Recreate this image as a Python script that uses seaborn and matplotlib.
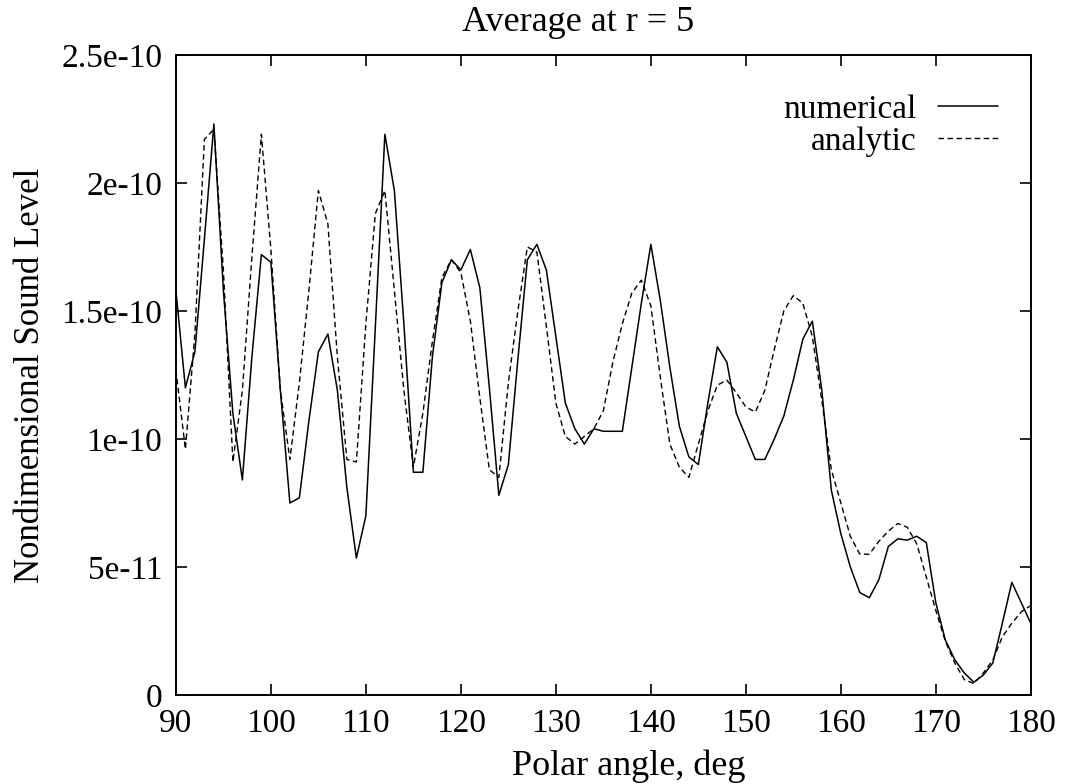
import numpy as np
import pandas as pd
import matplotlib
matplotlib.use("Agg")
import matplotlib.pyplot as plt
import seaborn as sns

# polar angle, one point per degree
angle = np.arange(90, 181)

# sound level, in units of 1e-11
numerical = [
    15.8, 12.0, 13.4, 17.8, 22.3, 15.8, 11.0, 8.4, 13.2, 17.2,   # 90-99
    16.9, 11.9, 7.5, 7.7, 10.7, 13.4, 14.1, 11.9, 8.1, 5.35,     # 100-109
    7.0, 14.4, 21.9, 19.7, 14.5, 8.7, 8.7, 13.2, 16.1, 17.0,     # 110-119
    16.6, 17.4, 15.9, 12.0, 7.8, 9.0, 13.1, 17.0, 17.6, 16.6,    # 120-129
    14.0, 11.4, 10.4, 9.8, 10.4, 10.3, 10.3, 10.3, 12.8, 15.3,   # 130-139
    17.6, 15.4, 12.8, 10.5, 9.3, 9.0, 11.4, 13.6, 13.0, 11.0,    # 140-149
    10.1, 9.2, 9.2, 10.0, 10.9, 12.3, 13.9, 14.6, 11.9, 8.0,     # 150-159
    6.3, 5.0, 4.0, 3.8, 4.5, 5.8, 6.1, 6.05, 6.2, 5.95,          # 160-169
    3.6, 2.15, 1.37, 0.86, 0.5, 0.78, 1.25, 2.8, 4.4, 3.6,       # 170-179
    2.8,                                                          # 180
]
analytic = [
    12.7, 9.6, 14.1, 21.7, 22.1, 16.6, 9.1, 11.9, 17.1, 21.9,    # 90-99
    17.4, 11.9, 9.2, 12.2, 15.8, 19.7, 18.4, 13.2, 9.2, 9.1,     # 100-109
    14.5, 18.8, 19.7, 15.8, 11.9, 8.9, 11.0, 13.8, 16.3, 17.0,   # 110-119
    16.5, 14.6, 11.6, 8.8, 8.5, 12.2, 15.0, 17.5, 17.3, 14.4,    # 120-129
    11.4, 10.1, 9.8, 10.1, 10.4, 11.1, 13.0, 14.5, 15.7, 16.2,   # 130-139
    15.2, 12.4, 9.8, 8.9, 8.5, 9.8, 11.1, 12.1, 12.3, 11.8,      # 140-149
    11.25, 11.05, 11.9, 13.5, 15.0, 15.6, 15.3, 14.0, 11.5, 8.8, # 150-159
    7.5, 6.2, 5.5, 5.5, 6.0, 6.4, 6.7, 6.55, 5.9, 4.6,           # 160-169
    3.3, 2.1, 1.25, 0.6, 0.45, 0.86, 1.37, 2.27, 2.8, 3.25,      # 170-179
    3.5,                                                          # 180
]

yticks = [0, 5e-11, 1e-10, 1.5e-10, 2e-10, 2.5e-10]
ytick_labels = ["0", "5e-11", "1e-10", "1.5e-10", "2e-10", "2.5e-10"]
xticks = [90, 100, 110, 120, 130, 140, 150, 160, 170, 180]

df = pd.DataFrame({
    "angle": angle,
    "numerical": np.array(numerical) * 1e-11,
    "analytic": np.array(analytic) * 1e-11,
})

sns.set_style("ticks")
plt.rcParams["font.family"] = ["Liberation Serif", "DejaVu Serif"]
plt.rcParams["text.color"] = "black"
plt.rcParams["axes.labelcolor"] = "black"

fig = plt.figure(figsize=(10.66, 7.84), dpi=100)
ax = fig.add_axes([0.165, 0.1135, 0.802, 0.8165])

sns.lineplot(data=df, x="angle", y="numerical", ax=ax, color="black",
             lw=1.1, label="numerical")
sns.lineplot(data=df, x="angle", y="analytic", ax=ax, color="black",
             lw=1.0, linestyle=(0, (4, 2.5)), label="analytic")

ax.set_xlim(90, 180)
ax.set_ylim(0, 2.5e-10)
ax.set_xticks(xticks)
ax.set_yticks(yticks)
ax.set_yticklabels(ytick_labels)
ax.tick_params(direction="in", length=8, width=1.2, labelsize=24,
               top=True, right=True, pad=10, colors="black")
for s in ax.spines.values():
    s.set_linewidth(1.4)
    s.set_color("black")

ax.set_title("Average at r = 5", fontsize=26, pad=17, color="black", x=0.47)
ax.set_xlabel("Polar angle, deg", fontsize=26, color="black")
ax.xaxis.set_label_coords(0.53, -0.085)
ax.set_ylabel("Nondimensional Sound Level", fontsize=25, labelpad=10,
              color="black")

ax.legend(loc="upper right", frameon=False, markerfirst=False, fontsize=24,
          handlelength=1.8, handletextpad=0.65, labelspacing=0.05,
          bbox_to_anchor=(0.997, 0.985))

fig.savefig("out.png", dpi=100, facecolor="white")
